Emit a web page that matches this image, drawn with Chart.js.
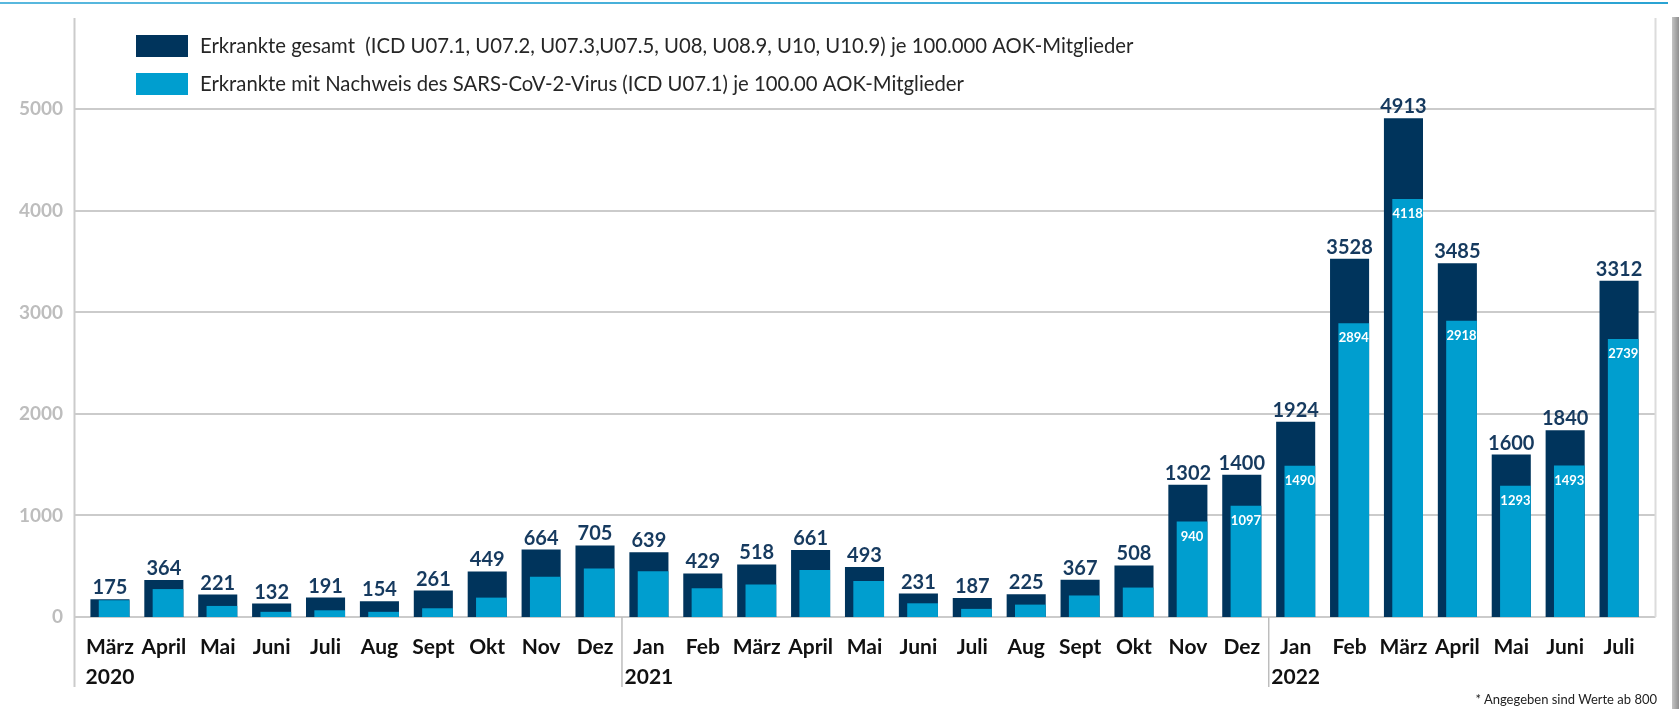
<!DOCTYPE html>
<html lang="de">
<head>
<meta charset="utf-8">
<title>Erkrankte je 100.000 AOK-Mitglieder</title>
<script src="https://cdn.jsdelivr.net/npm/chart.js@4/dist/chart.umd.min.js"></script>
<style>
  html, body { margin: 0; padding: 0; background: #fff; }
  #wrap { position: relative; width: 1679px; height: 709px; overflow: hidden; }
  #topline { position: absolute; left: 0; top: 2px; width: 1668px; height: 2px;
             background: linear-gradient(to right, #59b8de, #2aa3d3); }
  #shadow { position: absolute; left: 1672px; top: 17px; width: 7px; height: 692px;
            background: linear-gradient(to right, #c4c4c4, #8f8f8f); }
  #footnote { position: absolute; right: 22px; top: 691px; font: 13px Lato, sans-serif; color: #222; }
</style>
</head>
<body>
<div id="wrap">
  <canvas id="chart"></canvas>
  <div id="topline"></div>
  <div id="shadow"></div>
  <div id="footnote">* Angegeben sind Werte ab 800</div>
</div>
<script>
// Monate (März 2020 bis Juli 2022)
const months = ['März', 'April', 'Mai', 'Juni', 'Juli', 'Aug', 'Sept', 'Okt', 'Nov', 'Dez',
                'Jan', 'Feb', 'März', 'April', 'Mai', 'Juni', 'Juli', 'Aug', 'Sept', 'Okt', 'Nov', 'Dez',
                'Jan', 'Feb', 'März', 'April', 'Mai', 'Juni', 'Juli'];
const years = ['2020', '', '', '', '', '', '', '', '', '',
               '2021', '', '', '', '', '', '', '', '', '', '', '',
               '2022', '', '', '', '', '', ''];

// Erkrankte gesamt je 100.000 AOK-Mitglieder
const totals = [175, 364, 221, 132, 191, 154, 261, 449, 664, 705,
                639, 429, 518, 661, 493, 231, 187, 225, 367, 508, 1302, 1400,
                1924, 3528, 4913, 3485, 1600, 1840, 3312];
// Erkrankte mit Nachweis SARS-CoV-2 (U07.1), Werte unter 800 geschätzt
const confirmed = [165, 275, 109, 51, 66, 51, 86, 191, 396, 477,
                   451, 283, 320, 463, 355, 135, 80, 122, 212, 290, 940, 1097,
                   1490, 2894, 4118, 2918, 1293, 1493, 2739];

const seriesNames = [
  'Erkrankte gesamt  (ICD U07.1, U07.2, U07.3,U07.5, U08, U08.9, U10, U10.9) je 100.000 AOK-Mitglieder',
  'Erkrankte mit Nachweis des SARS-CoV-2-Virus (ICD U07.1) je 100.00 AOK-Mitglieder'
];
const yTicks = [0, 1000, 2000, 3000, 4000, 5000];
const labelThreshold = 800;

const darkBlue = '#00345c';
const lightBlue = '#009ecf';
const gridColor = '#cbcbcb';

const labels = months.map((m, i) => years[i] ? [m, years[i]] : m);

// helle Balken rechtsbündig in den dunklen Balken schieben
const alignRight = {
  id: 'alignRight',
  afterDatasetsUpdate(chart) {
    const dark = chart.getDatasetMeta(0).data;
    chart.getDatasetMeta(1).data.forEach((bar, i) => {
      bar.x += (dark[i].width - bar.width) / 2;
    });
  }
};

// Gitternetz, Achsenlinien und Jahrestrenner
const frame = {
  id: 'frame',
  beforeDatasetsDraw(chart) {
    const {ctx, chartArea, scales} = chart;
    const left = chartArea.left - 8.5, right = chartArea.right + 9.5;
    ctx.save();
    ctx.strokeStyle = gridColor;
    ctx.lineWidth = 2;
    scales.y.ticks.forEach(t => {
      const y = Math.round(scales.y.getPixelForValue(t.value));
      ctx.beginPath(); ctx.moveTo(left, y); ctx.lineTo(right, y); ctx.stroke();
    });
    ctx.beginPath(); ctx.moveTo(left, chartArea.top); ctx.lineTo(left, chartArea.bottom + 70); ctx.stroke();
    ctx.strokeStyle = '#dcdcdc';
    ctx.beginPath(); ctx.moveTo(right, chartArea.top); ctx.lineTo(right, chartArea.bottom); ctx.stroke();
    ctx.strokeStyle = '#bdbdbd';
    ctx.lineWidth = 1.5;
    years.forEach((yr, i) => {
      if (!yr || i === 0) return;
      const x = scales.x.getPixelForValue(i - 0.5);
      ctx.beginPath(); ctx.moveTo(x, chartArea.bottom); ctx.lineTo(x, chartArea.bottom + 70); ctx.stroke();
    });
    ctx.restore();
  }
};

// Werte über den Balken / in den hellen Balken
const valueLabels = {
  id: 'valueLabels',
  afterDatasetsDraw(chart) {
    const ctx = chart.ctx;
    ctx.save();
    ctx.textAlign = 'center';
    ctx.fillStyle = '#163a5f';
    ctx.font = 'bold 20px Lato';
    ctx.textBaseline = 'alphabetic';
    chart.getDatasetMeta(0).data.forEach((bar, i) => {
      ctx.fillText(String(totals[i]), bar.x, bar.y - 5);
    });
    ctx.fillStyle = '#ffffff';
    ctx.font = 'bold 13px Lato';
    ctx.textBaseline = 'middle';
    chart.getDatasetMeta(1).data.forEach((bar, i) => {
      if (confirmed[i] >= labelThreshold) ctx.fillText(String(confirmed[i]), bar.x, bar.y + 15);
    });
    ctx.restore();
  }
};

// Legende oben links im Diagramm
const legendBoxes = {
  id: 'legendBoxes',
  afterDraw(chart) {
    const ctx = chart.ctx;
    ctx.save();
    ctx.font = '20.3px Lato';
    ctx.textBaseline = 'middle';
    ctx.textAlign = 'left';
    chart.data.datasets.forEach((ds, i) => {
      const y = 35 + i * 38;
      ctx.fillStyle = ds.backgroundColor;
      ctx.fillRect(136, y, 52, 22);
      ctx.fillStyle = '#262626';
      ctx.fillText(ds.label, 200, y + 11);
    });
    ctx.restore();
  }
};

new Chart(document.getElementById('chart'), {
  type: 'bar',
  data: {
    labels: labels,
    datasets: [
      {
        label: seriesNames[0],
        data: totals,
        backgroundColor: darkBlue,
        barPercentage: 0.725,
        categoryPercentage: 1,
        grouped: false,
        order: 2
      },
      {
        label: seriesNames[1],
        data: confirmed,
        backgroundColor: lightBlue,
        barPercentage: 0.57,
        categoryPercentage: 1,
        grouped: false,
        order: 1
      }
    ]
  },
  options: {
    responsive: true,
    maintainAspectRatio: false,
    animation: false,
    layout: { padding: { top: 18, right: 33, left: 0, bottom: 0 } },
    plugins: {
      legend: { display: false },
      tooltip: { enabled: false }
    },
    scales: {
      x: {
        grid: { display: false, drawTicks: false },
        border: { display: false },
        ticks: {
          color: '#111',
          font: { family: 'Lato', weight: 'bold', size: 21, lineHeight: 1.4 },
          padding: 16,
          autoSkip: false,
          maxRotation: 0
        },
        afterFit: s => { s.height = 92; }
      },
      y: {
        min: 0,
        max: 5900,
        bounds: 'data',
        grid: { display: false, drawTicks: false },
        border: { display: false },
        ticks: {
          color: '#bdbdbd',
          font: { family: 'Lato', weight: 'bold', size: 19 },
          padding: 20,
          callback: v => String(v)
        },
        afterBuildTicks: s => { s.ticks = yTicks.map(v => ({ value: v })); },
        afterFit: s => { s.width = 83; s.paddingTop = 0; s.paddingBottom = 0; }
      }
    }
  },
  plugins: [alignRight, frame, valueLabels, legendBoxes]
});
</script>
</body>
</html>
